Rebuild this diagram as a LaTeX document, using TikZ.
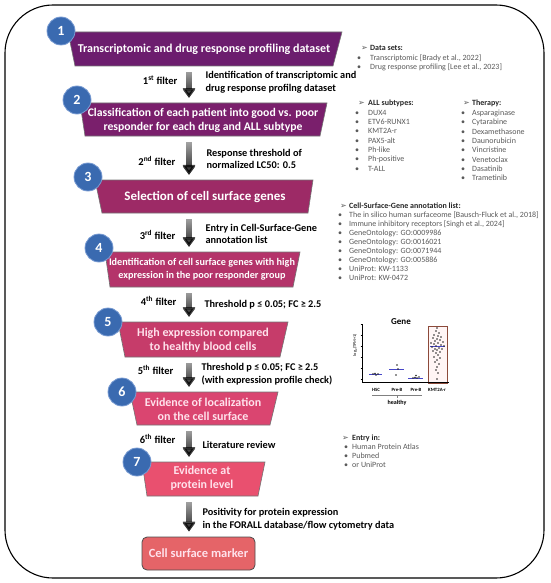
\documentclass[tikz,border=0pt]{standalone}
\usepackage{fontspec}
\setmainfont{Carlito}
\newfontfamily\dejavu{DejaVu Sans}
\usepackage{xcolor}
\usepackage{tikz}
\usetikzlibrary{calc, positioning, arrows.meta, fadings}
\definecolor{stepA}{RGB}{108,29,110}
\definecolor{stepB}{RGB}{122,31,108}
\definecolor{stepC}{RGB}{157,42,102}
\definecolor{stepD}{RGB}{180,52,106}
\definecolor{stepE}{RGB}{198,60,106}
\definecolor{stepF}{RGB}{218,69,112}
\definecolor{stepG}{RGB}{233,80,111}
\definecolor{markerfill}{RGB}{229,100,104}
\definecolor{pinktext}{RGB}{255,226,236}
\definecolor{numblue}{RGB}{58,106,176}
\definecolor{numring}{RGB}{120,155,210}
\definecolor{listgray}{RGB}{89,89,89}
\definecolor{listdark}{RGB}{38,38,38}
\definecolor{boxbrown}{RGB}{140,74,58}
\definecolor{medblue}{RGB}{70,70,200}
\tikzfading[name=arrowfade, top color=transparent!78, bottom color=transparent!0]

\begin{document}
\begin{tikzpicture}[x=1pt, y=-1pt,
    btxt/.style={text=white, align=center, inner sep=0pt, font=\fontsize{12}{14}\selectfont\bfseries},
    num/.style={circle, fill=numblue, draw=numring, line width=0.8pt, minimum size=28pt,
        inner sep=0pt, text=white, font=\fontsize{14}{14}\selectfont\bfseries},
    flt/.style={line width=6pt, -{Triangle[width=14pt,length=10pt]}, path fading=arrowfade,
        shorten <=6pt, shorten >=5pt},
    flab/.style={anchor=east, font=\fontsize{10.5}{12}\selectfont\bfseries},
    ftxt/.style={anchor=west, align=left, font=\fontsize{10.3}{12.5}\selectfont\bfseries},
    lst/.style={anchor=base west, inner sep=0pt, text=listgray, font=\fontsize{8}{9}\selectfont},
    glab/.style={inner sep=0pt, font=\fontsize{4.8}{5}\selectfont\bfseries}
]
    \useasboundingbox (0,0) rectangle (550,583);

    \draw[line width=1.1pt, rounded corners=48pt] (5,5) rectangle (544,578);

    \foreach \i/\col/\xa/\xb/\xc/\xd/\ya/\yb in {
        1/stepA/68/342/333/75/32/66,
        2/stepB/80/327/320/85/103/136,
        3/stepC/95/313/308/102/180/213,
        4/stepD/105/300/293/110/252/287,
        5/stepE/118/288/280/125/322/357,
        6/stepF/130/278/270/137/392/425,
        7/stepG/142/265/258/147/462/496}
    {
        \filldraw[fill=\col, draw=black!55, line width=0.6pt]
            (\xa,\ya) -- (\xb,\ya) -- (\xc,\yb) -- (\xd,\yb) -- cycle;
        \coordinate (top\i) at (189,\ya);
        \coordinate (bot\i) at (189,\yb);
    }

    \node[btxt] (s1) at (204,49) {Transcriptomic and drug response profiling dataset};
    \node[btxt, font=\fontsize{11.7}{14}\selectfont\bfseries] (s2) at (203,120)
        {Classification of each patient into good vs. poor\\responder for each drug and ALL subtype};
    \node[btxt, font=\fontsize{13}{14}\selectfont\bfseries] (s3) at (205,197) {Selection of cell surface genes};
    \node[btxt, font=\fontsize{10.2}{13}\selectfont\bfseries] (s4) at (202,269.5)
        {Identification of cell surface genes with high\\expression in the poor responder group};
    \node[btxt, text=pinktext] (s5) at (203,340) {High expression compared\\to healthy blood cells};
    \node[btxt, text=pinktext] (s6) at (203,409.5) {Evidence of localization\\on the cell surface};
    \node[btxt, text=pinktext] (s7) at (202,478.5) {Evidence at\\protein level};
    \node[draw=black!70, line width=0.8pt, rounded corners=5pt, fill=markerfill,
        minimum width=113pt, minimum height=33pt, text=pinktext,
        font=\fontsize{12.5}{14}\selectfont\bfseries] (marker) at (198.5,553.5) {Cell surface marker};

    \node[num] (c1) at (61,31) {1};
    \node[num] (c2) at (77,100) {2};
    \node[num] (c3) at (88,177) {3};
    \node[num] (c4) at (99,248) {4};
    \node[num] (c5) at (108,322) {5};
    \node[num] (c6) at (122,392) {6};
    \node[num] (c7) at (137,462) {7};

    \foreach \i [evaluate=\i as \j using int(\i+1)] in {1,...,6}
        \draw[flt] (bot\i) -- (top\j);
    \draw[flt] (bot7) -- (marker.north -| bot7);

    \node[flab] (f1) at (181,80) {1\textsuperscript{st} filter};
    \node[ftxt] (t1) at (202,82.5) {Identification of transcriptomic and\\drug response profilng dataset};
    \node[flab] (f2) at (179,161) {2\textsuperscript{nd} filter};
    \node[ftxt] (t2) at (203,159) {Response threshold of\\normalized LC50: 0.5};
    \node[flab] (f3) at (179,235) {3\textsuperscript{rd} filter};
    \node[ftxt] (t3) at (202,234) {Entry in Cell-Surface-Gene\\annotation list};
    \node[flab] (f4) at (180,301) {4\textsuperscript{th} filter};
    \node[ftxt] (t4) at (201,305) {Threshold p ≤ 0.05; FC ≥ 2.5};
    \node[flab] (f5) at (177,370) {5\textsuperscript{th} filter};
    \node[ftxt] (t5) at (198,374) {Threshold p ≤ 0.05; FC ≥ 2.5\\(with expression profile check)};
    \node[flab] (f6) at (179,439) {6\textsuperscript{th} filter};
    \node[ftxt] (t6) at (199,445) {Literature review};
    \node[ftxt] (t7) at (199,519) {Positivity for protein expression\\in the FORALL database/flow cytometry data};

    \node[lst] (dhead) at (357,51) {\makebox[13pt][l]{\hspace{4pt}\dejavu ➢}\textcolor{listdark}{\bfseries Data sets:}};
    \foreach \t [count=\i] in {{Transcriptomic [Brady et al., 2022]}, {Drug response profiling [Lee et al., 2023]}}
        \node[lst] (data\i) at (357,51+9.5*\i) {\makebox[13pt][l]{•}\t};

    \node[lst] (shead) at (355,106) {\makebox[13pt][l]{\hspace{3pt}\dejavu ➢}\textcolor{listdark}{\bfseries ALL subtypes:}};
    \foreach \t [count=\i] in {DUX4, ETV6-RUNX1, KMT2A-r, PAX5-alt, Ph-like, Ph-positive, T-ALL}
        \node[lst] (sub\i) at (355,106+9.3*\i) {\makebox[13pt][l]{•}\t};

    \node[lst] (thead) at (461,106) {\makebox[11pt][l]{\hspace{2pt}\dejavu ➢}\textcolor{listdark}{\bfseries Therapy:}};
    \foreach \t [count=\i] in {Asparaginase, Cytarabine, Dexamethasone, Daunorubicin, Vincristine, Venetoclax, Dasatinib, Trametinib}
        \node[lst] (ther\i) at (461,106+9.35*\i) {\makebox[11pt][l]{•}\t};

    \node[lst] (ahead) at (338,208) {\makebox[11pt][l]{\hspace{2pt}\dejavu ➢}\textcolor{listdark}{\bfseries Cell-Surface-Gene annotation list:}};
    \foreach \t [count=\i] in {{The in silico human surfaceome [Bausch-Fluck et al., 2018]},
        {Immune inhibitory receptors [Singh et al., 2024]}, GeneOntology: GO:0009986,
        GeneOntology: GO:0016021, GeneOntology: GO:0071944, GeneOntology: GO:005886,
        UniProt: KW-1133, UniProt: KW-0472}
        \node[lst] (ann\i) at (338,208+9.1*\i) {\makebox[11pt][l]{•}\t};

    \node[lst] (ehead) at (342,440) {\makebox[10pt][l]{\dejavu ➢}\textcolor{listdark}{\bfseries Entry in:}};
    \foreach \t [count=\i] in {Human Protein Atlas, Pubmed, or UniProt}
        \node[lst] (ent\i) at (344,440+9*\i) {\makebox[8pt][l]{•}\t};

    \node[font=\fontsize{9}{10}\selectfont\bfseries, inner sep=0pt] (gtitle) at (401,322) {Gene};
    \draw[boxbrown, fill=pink!15, line width=0.8pt] (428,326) rectangle (447,383);
    \draw[line width=0.4pt] (362,324) -- (362,382) -- (449,382);
    \foreach \ty in {324,335,346,357,368,379}
        \draw[line width=0.3pt] (360.5,\ty) -- (362,\ty);
    \node[glab, rotate=90, font=\fontsize{4.3}{5}\selectfont] (gylab) at (355,345) {log\textsubscript{2}(TPM+1)};

    \draw[medblue, line width=0.9pt] (369,374) -- (382,374);
    \draw[medblue, line width=0.9pt] (389,369) -- (404,369);
    \draw[medblue, line width=0.9pt] (408,378) -- (423,378);
    \draw[medblue, line width=0.9pt] (430,346) -- (445,346);

    \foreach \px/\py in {373/374, 375/373.5, 376/375, 378/374,
        397/365, 396/375, 398/369,
        413/378, 415/377.5, 417/378, 419/377, 416/375.5,
        437/328, 436/331, 439/333, 434/335, 438/336, 441/337, 433/338, 437/339,
        440/340, 435/341, 443/342, 431/343, 438/343, 434/344, 441/345, 436/346,
        444/346, 432/347, 439/348, 435/349, 442/349, 437/350, 433/351, 440/352,
        436/353, 438/355, 434/357, 440/358, 437/360, 435/362, 439/364, 437/367,
        436/370, 438/373, 437/379}
        \fill[black!85] (\px,\py) circle (0.9);

    \node[glab] (gx1) at (376,389.5) {HSC};
    \node[glab] (gx2) at (397,389.5) {Pre-B};
    \node[glab] (gx3) at (416,389.5) {Pre-B};
    \node[glab] (gx4) at (437,389.5) {KMT2A-r};
    \draw[black!50, line width=0.3pt] (372,395.5) -- (422,395.5);
    \draw[black!50, line width=0.3pt] (397,395.5) -- (397,397.5);
    \node[glab, font=\fontsize{6}{6}\selectfont\bfseries] (ghealthy) at (397,403) {healthy};

\end{tikzpicture}
\end{document}
